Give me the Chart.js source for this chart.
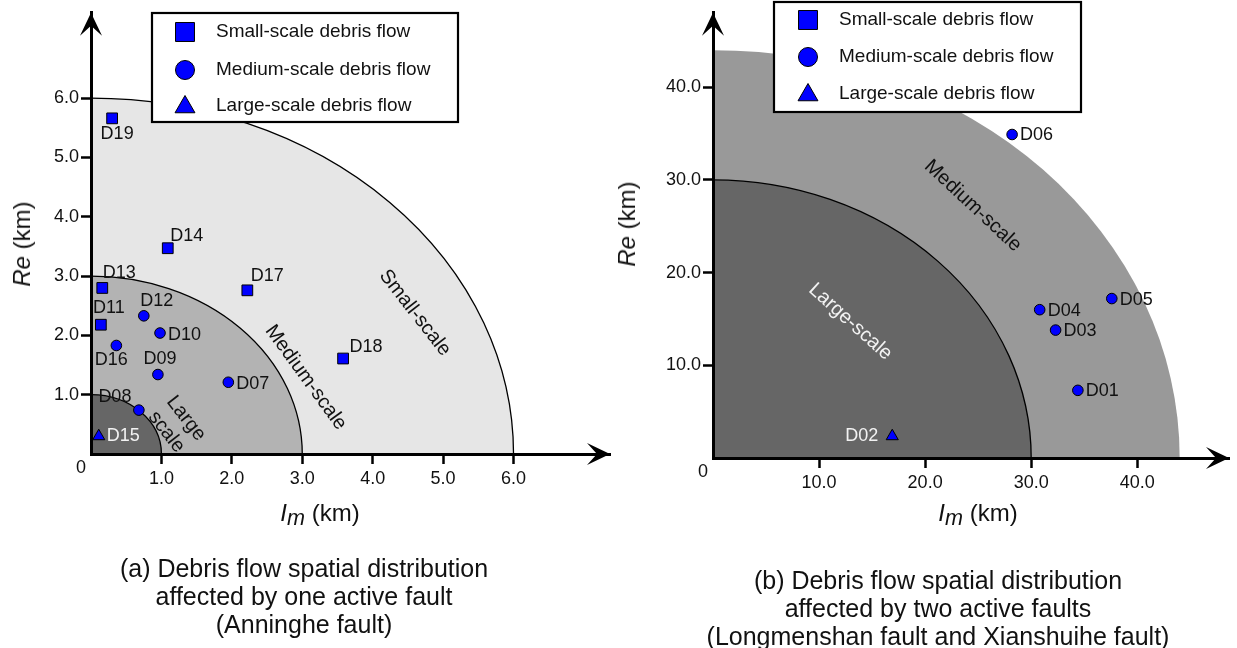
<!DOCTYPE html>
<html>
<head>
<meta charset="utf-8">
<script src="https://cdn.jsdelivr.net/npm/chart.js@4.4.1/dist/chart.umd.min.js"></script>
<style>
  body { margin: 0; background: #fff; width: 1237px; height: 648px; overflow: hidden; position: relative;
         font-family: "Liberation Sans", Arial, sans-serif; color: #111; }
  canvas { position: absolute; top: 0; }
  #leftChart { left: 0; }
  #rightChart { left: 620px; }
  .ytitle { position: absolute; font-size: 24px; white-space: nowrap; transform: translate(-50%, -50%) rotate(-90deg); }
  .xtitle { position: absolute; font-size: 24px; white-space: nowrap; transform: translate(-50%, -50%); }
  .xtitle sub { font-size: 90%; vertical-align: -4px; }
  .caption { position: absolute; font-size: 25px; line-height: 28px; text-align: center; white-space: nowrap; transform: translateX(-50%); }
</style>
</head>
<body>
<canvas id="leftChart" width="620" height="648"></canvas>
<canvas id="rightChart" width="617" height="648"></canvas>

<div class="ytitle" style="left:22px;top:244px"><i>Re</i> (km)</div>
<div class="ytitle" style="left:627px;top:224px"><i>Re</i> (km)</div>
<div class="xtitle" style="left:320px;top:515px"><i>I<sub>m</sub></i> (km)</div>
<div class="xtitle" style="left:978px;top:515px"><i>I<sub>m</sub></i> (km)</div>

<div class="caption" style="left:304px;top:554px">(a) Debris flow spatial distribution<br>affected by one active fault<br>(Anninghe fault)</div>
<div class="caption" style="left:938px;top:566px">(b) Debris flow spatial distribution<br>affected by two active faults<br>(Longmenshan fault and Xianshuihe fault)</div>

<script>
const FONT = '"Liberation Sans", Arial, sans-serif';

const seriesLabels = ['Small-scale debris flow', 'Medium-scale debris flow', 'Large-scale debris flow'];

// (a) Anninghe fault
const leftSmallNames = ['D19', 'D14', 'D13', 'D17', 'D11', 'D18'];
const leftSmallIm = [0.30, 1.09, 0.16, 2.22, 0.14, 3.58];
const leftSmallRe = [5.66, 3.47, 2.80, 2.76, 2.18, 1.61];

const leftMediumNames = ['D12', 'D10', 'D16', 'D09', 'D07', 'D08'];
const leftMediumIm = [0.75, 0.98, 0.36, 0.95, 1.95, 0.68];
const leftMediumRe = [2.33, 2.04, 1.83, 1.34, 1.21, 0.74];

const leftLargeNames = ['D15'];
const leftLargeIm = [0.11];
const leftLargeRe = [0.30];

const leftTicks = [1, 2, 3, 4, 5, 6];
const leftZoneRadii = [6, 3, 1];

// (b) Longmenshan + Xianshuihe faults
const rightSmallNames = [];
const rightSmallIm = [];
const rightSmallRe = [];

const rightMediumNames = ['D06', 'D04', 'D05', 'D03', 'D01'];
const rightMediumIm = [28.2, 30.8, 37.6, 32.3, 34.4];
const rightMediumRe = [34.9, 16.0, 17.2, 13.8, 7.3];

const rightLargeNames = ['D02'];
const rightLargeIm = [16.9];
const rightLargeRe = [2.35];

const rightTicks = [10, 20, 30, 40];
const rightZoneRadii = [44, 30];

// label placement next to each marker (pixels)
const labelPlace = {
  D19: { dx: 5, dy: 16 }, D14: { dx: 19, dy: -12 }, D13: { dx: 17, dy: -15 },
  D11: { dx: 8, dy: -17 }, D12: { dx: 13, dy: -15 }, D10: { dx: 8, dy: 2, align: 'left' },
  D16: { dx: -5, dy: 15 }, D09: { dx: 2, dy: -16 }, D07: { dx: 8, dy: 2, align: 'left' },
  D08: { dx: -24, dy: -13 }, D15: { dx: 8, dy: 0, align: 'left', color: '#f2f2f2' },
  D18: { dx: 23, dy: -11 }, D17: { dx: 20, dy: -14 },
  D06: { dx: 8, dy: 1, align: 'left' }, D04: { dx: 8, dy: 1, align: 'left' },
  D05: { dx: 8, dy: 1, align: 'left' }, D03: { dx: 8, dy: 1, align: 'left' },
  D01: { dx: 8, dy: 1, align: 'left' }, D02: { dx: -14, dy: 0, align: 'right', color: '#f2f2f2' },
};

const toPoints = (xs, ys) => xs.map((v, i) => ({ x: v, y: ys[i] }));

function makeDatasets(groups) {
  const styles = [
    { pointStyle: 'rect', pointRadius: 7.6 },
    { pointStyle: 'circle', pointRadius: 5.3 },
    { pointStyle: 'triangle', pointRadius: 7 },
  ];
  return groups.map((g, i) => ({
    label: seriesLabels[i],
    names: g.names,
    data: toPoints(g.im, g.re),
    pointStyle: styles[i].pointStyle,
    pointRadius: styles[i].pointRadius,
    pointBackgroundColor: '#0000ff',
    pointBorderColor: '#000',
    pointBorderWidth: 1,
  }));
}

const zonesPlugin = {
  id: 'zones',
  beforeDraw(chart, args, opts) {
    const { ctx, scales: { x, y } } = chart;
    const x0 = x.getPixelForValue(0);
    const y0 = y.getPixelForValue(0);
    ctx.save();
    opts.radii.forEach((r, i) => {
      const rx = x.getPixelForValue(r) - x0;
      const ry = y0 - y.getPixelForValue(r);
      ctx.beginPath();
      ctx.moveTo(x0, y0);
      ctx.ellipse(x0, y0, rx, ry, 0, -Math.PI / 2, 0);
      ctx.closePath();
      ctx.fillStyle = opts.fills[i];
      ctx.fill();
      if (opts.strokes[i]) {
        ctx.beginPath();
        ctx.ellipse(x0, y0, rx, ry, 0, -Math.PI / 2, 0);
        ctx.strokeStyle = '#000';
        ctx.lineWidth = 1.3;
        ctx.stroke();
      }
    });
    ctx.restore();
  },
};

const zoneTextPlugin = {
  id: 'zoneText',
  afterDatasetsDraw(chart, args, opts) {
    const { ctx, scales: { x, y } } = chart;
    ctx.save();
    ctx.font = `20px ${FONT}`;
    ctx.textAlign = 'center';
    ctx.textBaseline = 'middle';
    opts.items.forEach(t => {
      ctx.save();
      ctx.translate(x.getPixelForValue(t.x), y.getPixelForValue(t.y));
      ctx.rotate(t.angle * Math.PI / 180);
      ctx.fillStyle = t.color || '#111';
      ctx.fillText(t.text, 0, 0);
      ctx.restore();
    });
    ctx.restore();
  },
};

const pointNamesPlugin = {
  id: 'pointNames',
  afterDatasetsDraw(chart) {
    const ctx = chart.ctx;
    ctx.save();
    ctx.font = `18px ${FONT}`;
    ctx.textBaseline = 'middle';
    chart.data.datasets.forEach((ds, di) => {
      chart.getDatasetMeta(di).data.forEach((pt, i) => {
        const name = ds.names[i];
        const pl = labelPlace[name] || { dx: 8, dy: 0, align: 'left' };
        ctx.fillStyle = pl.color || '#111';
        ctx.textAlign = pl.align || 'center';
        ctx.fillText(name, pt.x + pl.dx, pt.y + pl.dy);
      });
    });
    ctx.restore();
  },
};

const axisDecorPlugin = {
  id: 'axisDecor',
  afterDraw(chart) {
    const { ctx, chartArea: a } = chart;
    ctx.save();
    ctx.fillStyle = '#000';
    // arrow on y axis
    ctx.beginPath();
    ctx.moveTo(a.left, a.top);
    ctx.lineTo(a.left + 11, a.top + 23);
    ctx.lineTo(a.left, a.top + 13);
    ctx.lineTo(a.left - 11, a.top + 23);
    ctx.closePath();
    ctx.fill();
    // arrow on x axis
    ctx.beginPath();
    ctx.moveTo(a.right, a.bottom);
    ctx.lineTo(a.right - 23, a.bottom - 11);
    ctx.lineTo(a.right - 13, a.bottom);
    ctx.lineTo(a.right - 23, a.bottom + 11);
    ctx.closePath();
    ctx.fill();
    ctx.fillStyle = '#111';
    ctx.font = `18px ${FONT}`;
    ctx.textAlign = 'center';
    ctx.textBaseline = 'middle';
    ctx.fillText('0', a.left - 10, a.bottom + 14);
    ctx.restore();
  },
};

const boxLegendPlugin = {
  id: 'boxLegend',
  afterDraw(chart, args, o) {
    const ctx = chart.ctx;
    ctx.save();
    ctx.fillStyle = '#fff';
    ctx.fillRect(o.left, o.top, o.width, o.height);
    ctx.strokeStyle = '#000';
    ctx.lineWidth = 2.2;
    ctx.strokeRect(o.left, o.top, o.width, o.height);
    const sizes = { rect: 13.4, circle: 9.5, triangle: 11.5 };
    chart.data.datasets.forEach((ds, i) => {
      const cy = o.rows[i];
      ctx.fillStyle = '#0000ff';
      ctx.strokeStyle = '#000';
      ctx.lineWidth = 1;
      Chart.helpers.drawPoint(ctx, {
        pointStyle: ds.pointStyle, rotation: 0, radius: sizes[ds.pointStyle], borderWidth: 1,
      }, o.markerX, ds.pointStyle === 'triangle' ? cy + 1 : cy);
      ctx.fillStyle = '#111';
      ctx.font = `19px ${FONT}`;
      ctx.textAlign = 'left';
      ctx.textBaseline = 'middle';
      ctx.fillText(ds.label, o.textX, cy);
    });
    ctx.restore();
  },
};

function axisOptions(p, ticks, max, fit, pad) {
  return {
    type: 'linear',
    min: 0,
    max,
    afterBuildTicks: s => { s.ticks = ticks.map(v => ({ value: v })); },
    afterFit: fit,
    grid: { drawOnChartArea: false, drawTicks: true, tickLength: 10, tickWidth: 2.5, tickColor: '#000' },
    border: { display: true, color: '#000', width: 3 },
    ticks: {
      color: '#111',
      padding: pad,
      font: { family: FONT, size: 18 },
      callback: v => v.toFixed(1),
    },
  };
}

function buildChart(id, p) {
  return new Chart(document.getElementById(id), {
    type: 'scatter',
    data: { datasets: p.datasets },
    options: {
      responsive: false,
      animation: false,
      events: [],
      layout: { padding: { top: p.top, right: p.right, left: 0, bottom: 0 } },
      scales: {
        x: axisOptions(p, p.ticks, p.xMax, s => { s.height = p.xAxisHeight; }, 4),
        y: axisOptions(p, p.ticks, p.yMax, s => { s.width = p.yAxisWidth; }, 2),
      },
      plugins: {
        legend: { display: false },
        tooltip: { enabled: false },
        zones: p.zones,
        zoneText: { items: p.zoneText },
        boxLegend: p.legend,
      },
    },
    plugins: [zonesPlugin, zoneTextPlugin, pointNamesPlugin, axisDecorPlugin, boxLegendPlugin],
  });
}

buildChart('leftChart', {
  datasets: makeDatasets([
    { names: leftSmallNames, im: leftSmallIm, re: leftSmallRe },
    { names: leftMediumNames, im: leftMediumIm, re: leftMediumRe },
    { names: leftLargeNames, im: leftLargeIm, re: leftLargeRe },
  ]),
  ticks: leftTicks,
  xMax: 7.37, yMax: 7.44,
  top: 10, right: 10, xAxisHeight: 194, yAxisWidth: 91,
  zones: { radii: leftZoneRadii, fills: ['#e6e6e6', '#b3b3b3', '#666666'], strokes: [true, true, true] },
  zoneText: [
    { text: 'Small-scale', x: 4.6, y: 2.38, angle: 52 },
    { text: 'Medium-scale', x: 3.05, y: 1.29, angle: 54 },
    { text: 'Large', x: 1.35, y: 0.6, angle: 52 },
    { text: 'scale', x: 1.07, y: 0.37, angle: 52 },
  ],
  legend: { left: 152, top: 13, width: 306, height: 109, markerX: 185, textX: 216, rows: [32, 70, 106] },
});

buildChart('rightChart', {
  datasets: makeDatasets([
    { names: rightSmallNames, im: rightSmallIm, re: rightSmallRe },
    { names: rightMediumNames, im: rightMediumIm, re: rightMediumRe },
    { names: rightLargeNames, im: rightLargeIm, re: rightLargeRe },
  ]),
  ticks: rightTicks,
  xMax: 48.65, yMax: 48.03,
  top: 8, right: 2, xAxisHeight: 190, yAxisWidth: 93,
  zones: { radii: rightZoneRadii, fills: ['#999999', '#666666'], strokes: [false, true] },
  zoneText: [
    { text: 'Medium-scale', x: 24.5, y: 27.2, angle: 43 },
    { text: 'Large-scale', x: 12.95, y: 14.7, angle: 42, color: '#f2f2f2' },
  ],
  legend: { left: 154, top: 2, width: 307, height: 110, markerX: 188, textX: 219, rows: [20, 57, 94] },
});
</script>
</body>
</html>
